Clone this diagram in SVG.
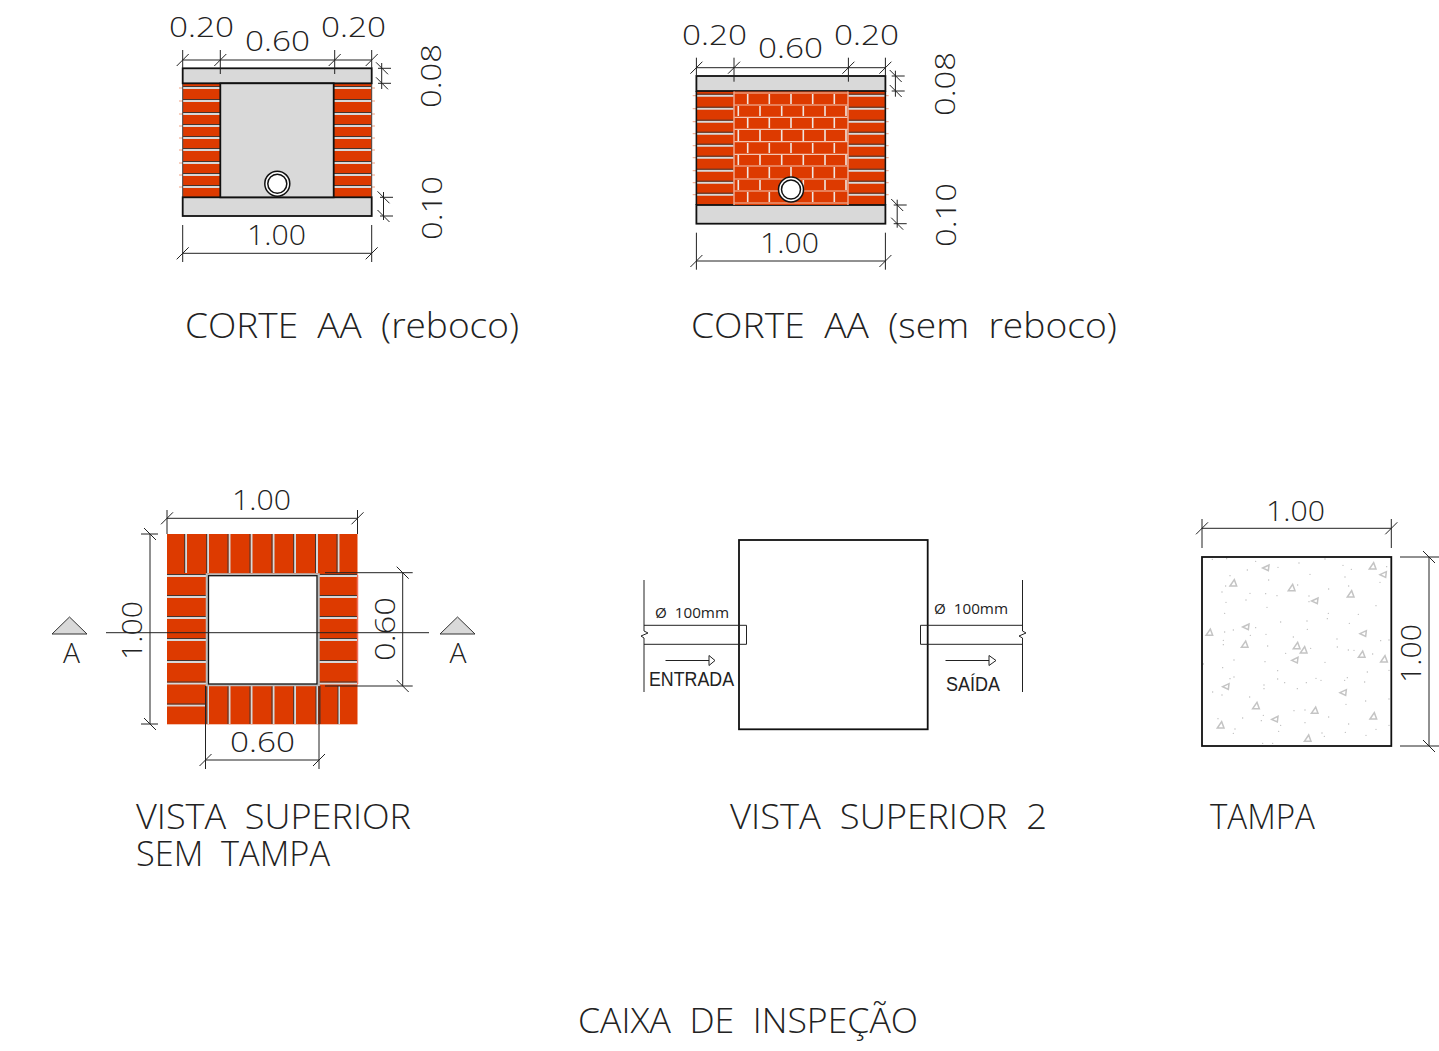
<svg xmlns="http://www.w3.org/2000/svg" width="1439" height="1051" viewBox="0 0 1439 1051">
<style>
text{font-family:"Open Sans","Liberation Sans",sans-serif;font-weight:300;fill:#222;white-space:pre}
.d{font-size:27px}.t{font-size:35px}.s{font-size:20px;font-weight:400;font-family:"Liberation Sans",sans-serif}.u{font-size:14px;font-weight:400}
.k{fill:none;stroke:#444;stroke-width:1}.l{fill:none;stroke:#222;stroke-width:1}.g{fill:#d9d9d9;stroke:#111;stroke-width:1.8}
.r{fill:#dd3a00}.j1{fill:none;stroke:#333;stroke-width:.9}.j2{fill:none;stroke:#d8d8d8;stroke-width:2}.m{fill:none;stroke:#f0a080;stroke-width:1}.m2{fill:none;stroke:#f4c4b0;stroke-width:1.200}.m3{fill:none;stroke:#efe6e0;stroke-width:1.600}
.c{fill:none;stroke:#c4c4c4;stroke-width:4.500}.p{fill:none;stroke:#bdbdbd;stroke-width:4.200;stroke-linecap:round}
</style>
<defs>
<path id="t" d="M-6 6L6-6" class="l"/>
<path id="tri" d="M-10 9L3-10L10 9Z" class="c"/>
<path id="tril" d="M-10 1L9-8L7 9Z" class="c"/>
<g id="corteBase">
<rect x="182.7" y="83.3" width="38" height="114" class="r"/><rect x="333.7" y="83.3" width="38" height="114" class="r"/>
<path class="m" d="M179 88h4M179 101h4M179 114h4M179 126h4M179 138h4M179 150h4M179 163h4M179 175h4M179 187h4M371 88h4M371 101h4M371 114h4M371 126h4M371 138h4M371 150h4M371 163h4M371 175h4M371 187h4"/>
<path class="j2" d="M183 88h37M183 101h37M183 114h37M183 126h37M183 138h37M183 150h37M183 163h37M183 175h37M183 187h37M334 88h37M334 101h37M334 114h37M334 126h37M334 138h37M334 150h37M334 163h37M334 175h37M334 187h37"/>
<path class="j1" d="M183 86.500h37M183 99.500h37M183 112.500h37M183 124.500h37M183 136.500h37M183 148.500h37M183 161.500h37M183 173.500h37M183 185.500h37M334 86.500h37M334 99.500h37M334 112.500h37M334 124.500h37M334 136.500h37M334 148.500h37M334 161.500h37M334 173.500h37M334 185.500h37"/>
<path class="k" d="M182.700 83.300V197.300M371.700 83.300V197.300"/>
<rect x="182.700" y="68.300" width="189" height="15" class="g"/>
<rect x="182.700" y="197.300" width="189" height="18.700" class="g"/>
<g>
<path class="l" d="M182.700 50V68M220.300 50V74M334.700 50V74M371.700 50V68M182.700 60H371.700M381.700 63V89M378 68.300H391M378 83.300H391M383.500 192V220M380 197.300H393M380 216H393M182.700 225V262M371.700 225V262M182.700 253.300H371.700"/>
<use href="#t" x="182.700" y="60"/><use href="#t" x="220.300" y="60"/><use href="#t" x="334.700" y="60"/><use href="#t" x="371.700" y="60"/>
<use href="#t" x="382" y="68.300" transform="rotate(90 382 68.300)"/><use href="#t" x="382" y="83.300" transform="rotate(90 382 83.300)"/>
<use href="#t" x="383.500" y="197.300" transform="rotate(90 383.500 197.300)"/><use href="#t" x="383.500" y="216" transform="rotate(90 383.500 216)"/>
<use href="#t" x="182.700" y="253.300"/><use href="#t" x="371.700" y="253.300"/>
</g>
</g>
</defs>

<g id="corte-reboco">
<use href="#corteBase"/>
<rect x="220.300" y="83.300" width="113.400" height="114" class="g"/>
<circle cx="277.300" cy="183.700" r="12.500" fill="#fff" stroke="#111" stroke-width="1.500"/>
<circle cx="277.300" cy="183.700" r="9.500" fill="#fff" stroke="#111" stroke-width="1.500"/>
<text class="d" x="169" y="37.300" textLength="65" lengthAdjust="spacingAndGlyphs">0.20</text>
<text class="d" x="245" y="50.700" textLength="65" lengthAdjust="spacingAndGlyphs">0.60</text>
<text class="d" x="321" y="37.300" textLength="65" lengthAdjust="spacingAndGlyphs">0.20</text>
<text class="d" x="247" y="245" textLength="59" lengthAdjust="spacingAndGlyphs">1.00</text>
<text class="d" transform="translate(441 108) rotate(-90)" textLength="64" lengthAdjust="spacingAndGlyphs">0.08</text>
<text class="d" transform="translate(442 240) rotate(-90)" textLength="64" lengthAdjust="spacingAndGlyphs">0.10</text>
<text class="t" x="185" y="338" textLength="334" lengthAdjust="spacingAndGlyphs">CORTE  AA  (reboco)</text>
</g>

<g id="corte-sem-reboco">
<use href="#corteBase" x="513.700" y="7.700"/>
<path d="M696.400 91V205M885.400 91V205" fill="none" stroke="#111" stroke-width="1.500"/>
<rect x="734" y="91.500" width="114" height="113.500" class="r"/>
<path class="m2" d="M734 93H848M734 105H848M734 117.300H848M734 129.300H848M734 141.700H848M734 154.300H848M734 166H848M734 179H848M734 191H848M734 203H848"/>
<path class="m3" d="M747.700 94V104M769.300 94V104M791 94V104M812.700 94V104M834.300 94V104M738.300 106V116M760 106V116M781.700 106V116M803.300 106V116M825 106V116M846 106V116M747.700 118V128M769.300 118V128M791 118V128M812.700 118V128M834.300 118V128M738.300 130V141M760 130V141M781.700 130V141M803.300 130V141M825 130V141M846 130V141M747.700 143V153M769.300 143V153M791 143V153M812.700 143V153M834.300 143V153M738.300 155V165M760 155V165M781.700 155V165M803.300 155V165M825 155V165M846 155V165M747.700 167V178M769.300 167V178M791 167V178M812.700 167V178M834.300 167V178M738.300 180V190M760 180V190M803.300 180V190M825 180V190M846 180V190M747.700 192V202M769.300 192V202M812.700 192V202M834.300 192V202"/>
<path d="M734 91.500V205M848 91.500V205" fill="none" stroke="#eda78c" stroke-width="1.500"/>
<circle cx="791" cy="189.500" r="12.500" fill="#fff" stroke="#111" stroke-width="1.500"/>
<circle cx="791" cy="189.500" r="9.500" fill="#fff" stroke="#111" stroke-width="1.500"/>
<text class="d" x="682" y="45" textLength="65" lengthAdjust="spacingAndGlyphs">0.20</text>
<text class="d" x="758" y="58.400" textLength="65" lengthAdjust="spacingAndGlyphs">0.60</text>
<text class="d" x="834" y="45" textLength="65" lengthAdjust="spacingAndGlyphs">0.20</text>
<text class="d" x="760" y="252.700" textLength="59" lengthAdjust="spacingAndGlyphs">1.00</text>
<text class="d" transform="translate(955 116) rotate(-90)" textLength="64" lengthAdjust="spacingAndGlyphs">0.08</text>
<text class="d" transform="translate(956 247) rotate(-90)" textLength="64" lengthAdjust="spacingAndGlyphs">0.10</text>
<text class="t" x="691" y="338" textLength="426" lengthAdjust="spacingAndGlyphs">CORTE  AA  (sem  reboco)</text>
</g>

<g id="vista-superior">
<rect x="167" y="534" width="190.500" height="190.300" class="r"/>
<path d="M357.500 575V684" fill="none" stroke="#f2705a" stroke-width="1.500"/>
<path class="j2" d="M186 534V573M208 534V573M229.500 534V573M251.500 534V573M273.500 534V573M295 534V573M317 534V573M338.500 534V573M208 686V724M229.500 686V724M251.500 686V724M273.500 686V724M295 686V724M317 686V724M339 686V724M167 576H206M167 597H206M167 618H206M167 640H206M167 662H206M167 683.500H206M167 705.500H206M319 576H357M319 597H357M319 618H357M319 640H357M319 662H357M319 683.500H357"/>
<path class="j1" d="M184.700 534V573M206.700 534V573M228 534V573M250 534V573M272 534V573M293.700 534V573M315.500 534V573M337 534V573M207 686V724M228 686V724M250 686V724M272 686V724M293.700 686V724M316 686V724M320 686V724M338 686V724M167 574.500H206M167 595.500H206M167 616.500H206M167 638.500H206M167 660.500H206M167 682H206M167 704H206M319 574.500H357M319 595.500H357M319 616.500H357M319 638.500H357M319 660.500H357M319 682H357"/>
<rect x="207" y="574.500" width="111.500" height="110.500" fill="#fff" stroke="#bbb" stroke-width="2.500"/>
<rect x="208.500" y="575.700" width="108.500" height="108.300" fill="#fff" stroke="#111" stroke-width="1.300"/>
<path class="l" d="M106 632.700H429M167 518.300H357.500M167 510V534M357.500 510V534M150 534V724M141 534H158M141 724H158M402.700 572.700V686M325 572.700H412.700M325 686H412.700M205.500 760H319M205.500 686V769M319 686V769"/>
<use href="#t" x="167" y="518.300"/><use href="#t" x="357.500" y="518.300"/><use href="#t" x="205.500" y="760"/><use href="#t" x="319" y="760"/>
<use href="#t" x="150" y="534" transform="rotate(90 150 534)"/><use href="#t" x="150" y="724" transform="rotate(90 150 724)"/>
<use href="#t" x="402.700" y="572.700" transform="rotate(90 402.700 572.700)"/><use href="#t" x="402.700" y="686" transform="rotate(90 402.700 686)"/>
<path d="M52 634L69.500 617L87 634Z" fill="#d9d9d9" stroke="#333" stroke-width="1"/>
<path d="M440 634L457.500 617L475 634Z" fill="#d9d9d9" stroke="#333" stroke-width="1"/>
<text class="d" x="63" y="663" textLength="17" lengthAdjust="spacingAndGlyphs">A</text>
<text class="d" x="449.500" y="663" textLength="17" lengthAdjust="spacingAndGlyphs">A</text>
<text class="d" x="232" y="510" textLength="59" lengthAdjust="spacingAndGlyphs">1.00</text>
<text class="d" x="230" y="752" textLength="65" lengthAdjust="spacingAndGlyphs">0.60</text>
<text class="d" transform="translate(142 660) rotate(-90)" textLength="59" lengthAdjust="spacingAndGlyphs">1.00</text>
<text class="d" transform="translate(395 661) rotate(-90)" textLength="64" lengthAdjust="spacingAndGlyphs">0.60</text>
<text class="t" x="136" y="829" textLength="275" lengthAdjust="spacingAndGlyphs">VISTA  SUPERIOR</text>
<text class="t" x="136" y="866" textLength="194" lengthAdjust="spacingAndGlyphs">SEM  TAMPA</text>
</g>

<g id="vista-superior-2">
<rect x="739" y="540" width="188.700" height="189.300" fill="none" stroke="#111" stroke-width="1.800"/>
<path class="l" d="M644 625.300H746.500V644.300H644M644 580V631L648 633L641 636L644 638V692M1022.500 580V631L1026 633L1019 636L1022.500 638V692M920.500 625.300H1022.500M920.500 644.300H1022.500M920.500 625.300V644.300"/>
<path class="l" d="M665.500 660.500H709M709 655.500L715 660.500L709 665.500ZM945.500 660.500H989M989 655.500L996 660.500L989 665.500Z"/>
<text class="u" x="655" y="618" textLength="74" lengthAdjust="spacingAndGlyphs">Ø  100mm</text>
<text class="u" x="934" y="614" textLength="74" lengthAdjust="spacingAndGlyphs">Ø  100mm</text>
<text class="s" x="649" y="686" textLength="85" lengthAdjust="spacingAndGlyphs">ENTRADA</text>
<text class="s" x="946" y="691" textLength="54" lengthAdjust="spacingAndGlyphs">SAÍDA</text>
<text class="t" x="730" y="829" textLength="317" lengthAdjust="spacingAndGlyphs">VISTA  SUPERIOR  2</text>
</g>

<g id="tampa">
<g transform="translate(1190 490) scale(.33333)">
<use href="#tril" x="228" y="233"/><use href="#tri" x="130" y="279"/><use href="#tri" x="305" y="293"/><use href="#tril" x="375" y="332"/><use href="#tri" x="482" y="312"/><use href="#tri" x="548" y="228"/><use href="#tril" x="580" y="253"/><use href="#tri" x="58" y="427"/><use href="#tril" x="168" y="410"/><use href="#tri" x="164" y="463"/><use href="#tri" x="320" y="467"/><use href="#tri" x="341" y="480"/><use href="#tril" x="315" y="510"/><use href="#tril" x="520" y="430"/><use href="#tri" x="515" y="493"/><use href="#tri" x="582" y="507"/><use href="#tril" x="108" y="589"/><use href="#tri" x="198" y="647"/><use href="#tril" x="255" y="687"/><use href="#tri" x="92" y="705"/><use href="#tri" x="374" y="661"/><use href="#tril" x="460" y="607"/><use href="#tri" x="550" y="678"/><use href="#tri" x="353" y="745"/>
<path class="p" d="M67 208h0M110 206h0M197 214h0M264 232h0M327 219h0M405 207h0M459 226h0M484 238h0M172 240h0M120 257h0M236 270h0M360 253h0M465 261h0M570 277h0M590 230h0M107 288h0M96 306h0M180 310h0M227 311h0M261 317h0M323 285h0M416 297h0M476 288h0M168 330h0M108 337h0M231 352h0M357 318h0M357 335h0M558 347h0M104 370h0M415 370h0M412 386h0M505 373h0M272 396h0M351 393h0M478 400h0M197 413h0M352 418h0M130 420h0M104 426h0M228 433h0M181 436h0M310 441h0M441 447h0M572 452h0M597 450h0M100 451h0M100 464h0M233 468h0M362 475h0M442 471h0M475 480h0M492 481h0M287 490h0M548 492h0M132 510h0M225 515h0M405 517h0M40 522h0M98 533h0M263 542h0M532 546h0M597 541h0M132 561h0M120 566h0M263 567h0M378 565h0M393 571h0M472 563h0M464 571h0M524 576h0M284 578h0M349 578h0M222 585h0M222 596h0M322 596h0M68 606h0M96 615h0M179 621h0M468 643h0M527 633h0M597 627h0M312 662h0M345 660h0M220 676h0M214 692h0M158 684h0M416 681h0M84 686h0M345 698h0M272 706h0M476 702h0M597 706h0M266 724h0M135 717h0M130 730h0M558 718h0M466 727h0M396 729h0M403 739h0M528 736h0M218 760h0M248 760h0"/>
</g>
<rect x="1202" y="557" width="189.300" height="189" fill="none" stroke="#111" stroke-width="1.800"/>
<path class="l" d="M1202 528.300H1391.300M1202 519V548M1391.300 519V548M1429 557V746M1400 557H1439M1400 746H1439"/>
<use href="#t" x="1202" y="528.300"/><use href="#t" x="1391.300" y="528.300"/>
<use href="#t" x="1429" y="557" transform="rotate(90 1429 557)"/><use href="#t" x="1429" y="746" transform="rotate(90 1429 746)"/>
<text class="d" x="1266" y="521" textLength="59" lengthAdjust="spacingAndGlyphs">1.00</text>
<text class="d" transform="translate(1421 683) rotate(-90)" textLength="59" lengthAdjust="spacingAndGlyphs">1.00</text>
<text class="t" x="1210" y="829" textLength="105" lengthAdjust="spacingAndGlyphs">TAMPA</text>
</g>

<text id="titulo" class="t" x="578" y="1033" textLength="340" lengthAdjust="spacingAndGlyphs">CAIXA  DE  INSPEÇÃO</text>
</svg>
